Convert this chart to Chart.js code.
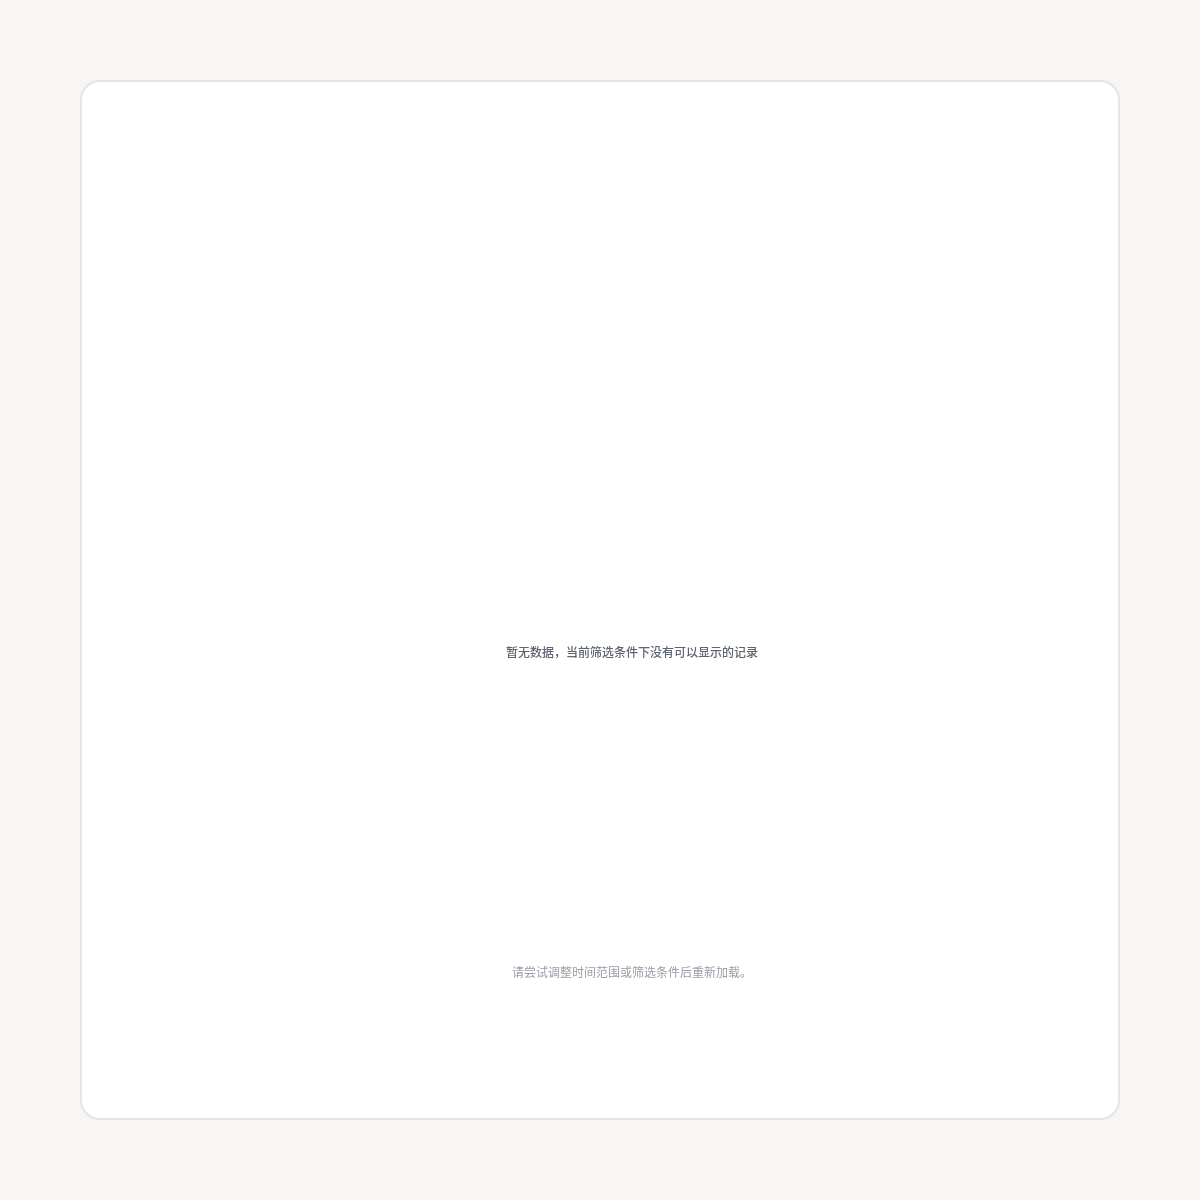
<!DOCTYPE html>
<html lang="zh-CN">
<head>
<meta charset="utf-8">
<title>销售数据</title>
<script src="https://cdn.jsdelivr.net/npm/chart.js@4.4.1/dist/chart.umd.min.js"></script>
<style>
    html, body {
        margin: 0;
        padding: 0;
        background: #f7f6f4;
    }
    .tarjeta {
        position: absolute;
        left: 80px;
        top: 80px;
        width: 1036px;
        height: 1036px;
        background: #ffffff;
        border: 2px solid #e6e5e2;
        border-radius: 20px;
    }
    .lienzo {
        position: absolute;
        left: 38px;
        top: 38px;
        width: 960px;
        height: 960px;
    }
</style>
</head>
<body>
<div class="tarjeta">
    <div class="lienzo"><canvas id="chartVentas"></canvas></div>
</div>
<script>
// Datos: el gráfico de referencia no muestra ninguna marca
const categorias = [];
const valores = [];

const mensajeVacio = '暂无数据，当前筛选条件下没有可以显示的记录';
const nota = '请尝试调整时间范围或筛选条件后重新加载。';

/* =====================
   MENSAJE SIN DATOS
===================== */
const pluginVacio = {
    id: 'sinDatos',
    afterDraw(chart) {
        const area = chart.chartArea;
        const ctx = chart.ctx;
        const cx = (area.left + area.right) / 2;
        const cy = (area.top + area.bottom) / 2;
        ctx.save();
        ctx.textAlign = 'center';
        ctx.textBaseline = 'middle';
        ctx.font = '500 12px "Noto Sans CJK SC", sans-serif';
        ctx.fillStyle = '#5d6370';
        ctx.fillText(mensajeVacio, cx, cy);
        ctx.font = '12px "Noto Sans CJK SC", sans-serif';
        ctx.fillStyle = '#9a9ca7';
        ctx.fillText(nota, cx, area.bottom - 108);
        ctx.restore();
    }
};

new Chart(
    document.getElementById('chartVentas'),
    {
        type: 'doughnut',
        data: {
            labels: categorias,
            datasets: [{
                data: valores,
                backgroundColor: ['#16a34a', '#22c55e', '#4ade80', '#86efac']
            }]
        },
        options: {
            responsive: true,
            maintainAspectRatio: false,
            animation: false,
            layout: {
                padding: { left: 64, top: 104 }
            },
            plugins: {
                legend: { display: false },
                tooltip: { enabled: false }
            }
        },
        plugins: [pluginVacio]
    }
);
</script>
</body>
</html>
